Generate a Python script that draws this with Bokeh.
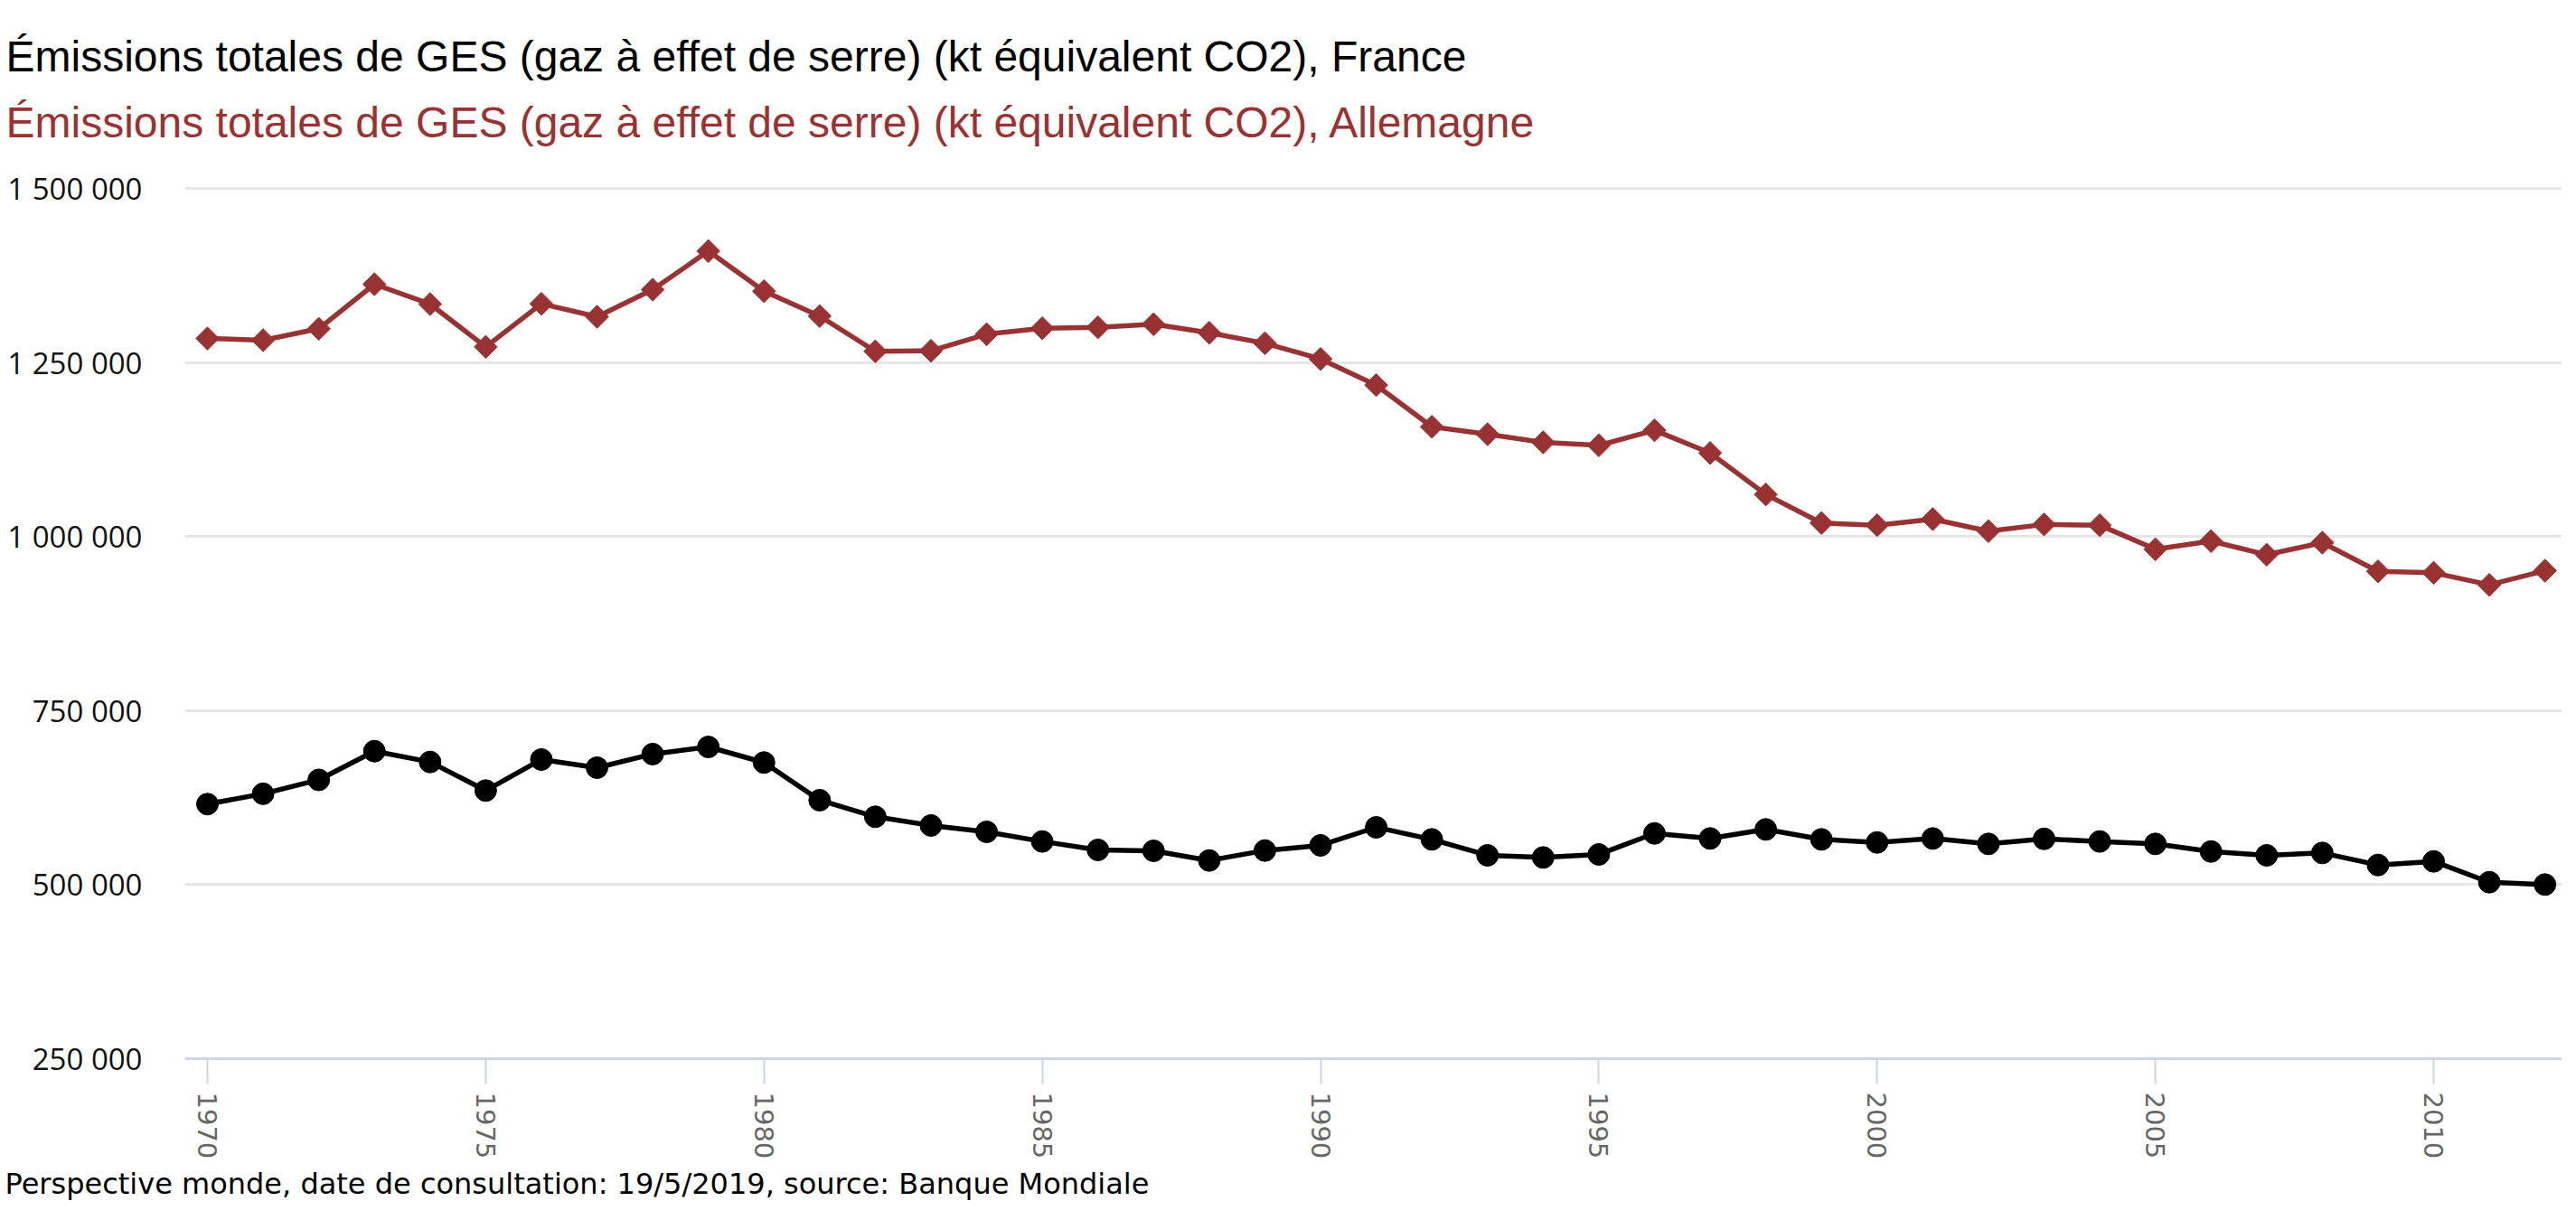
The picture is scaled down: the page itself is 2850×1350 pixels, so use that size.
import numpy as np
from bokeh.plotting import figure
from bokeh.models import Range1d, FixedTicker, Title, ColumnDataSource
from bokeh.embed import file_html
from bokeh.resources import INLINE

years = list(range(1970, 2013))
france = [615700, 630500, 650500, 691700, 676200, 635100, 679700, 668000, 687500, 697800,
          675400, 621300, 597500, 585000, 575800, 562000, 549900, 548600, 534700, 549000,
          556400, 582300, 565000, 542100, 539000, 543400, 573600, 566300, 579300, 565000,
          560600, 566300, 558500, 565800, 562000, 558500, 547600, 542100, 545500, 528200,
          533400, 503500, 500100]
allemagne = [1284500, 1282000, 1298400, 1362400, 1333900, 1272400, 1334300, 1315700, 1354600, 1410000,
             1352400, 1316600, 1266000, 1266800, 1290600, 1299200, 1300500, 1304900, 1292700, 1277600,
             1255100, 1217500, 1157700, 1147000, 1135300, 1131000, 1152600, 1120000, 1060400, 1019400,
             1016300, 1025000, 1007700, 1017300, 1016300, 981700, 993400, 973900, 991200, 950000,
             947900, 930600, 950900]

y_ticks = [250000, 500000, 750000, 1000000, 1250000, 1500000]
y_tick_labels = ["250 000", "500 000", "750 000", "1 000 000", "1 250 000", "1 500 000"]
x_ticks = [1970, 1975, 1980, 1985, 1990, 1995, 2000, 2005, 2010]

title_fr = "Émissions totales de GES (gaz à effet de serre) (kt équivalent CO2), France"
title_de = "Émissions totales de GES (gaz à effet de serre) (kt équivalent CO2), Allemagne"
credits = "Perspective monde, date de consultation: 19/5/2019, source: Banque Mondiale"

color_fr = "#000000"
color_de = "#993333"

src = ColumnDataSource(dict(year=years, fr=france, de=allemagne))

p = figure(width=2834, height=1334, output_backend="svg", toolbar_location=None,
           x_range=Range1d(1969.594, 2012.306), y_range=Range1d(250000, 1510384),
           min_border_left=204, min_border_right=0, min_border_top=200, min_border_bottom=163)
p.outline_line_color = None
p.background_fill_color = "white"
p.border_fill_color = "white"

# titles
t_fr = Title(text=title_fr, text_color=color_fr, text_font="Liberation Sans",
             text_font_size="48px", text_font_style="normal", align="left", offset=-198)
t_de = Title(text=title_de, text_color=color_de, text_font="Liberation Sans",
             text_font_size="48px", text_font_style="normal", align="left", offset=-198,
             standoff=78)
try:
    t_fr.standoff = -42
except Exception:
    t_fr.standoff = 0
p.add_layout(t_de, "above")
p.add_layout(t_fr, "above")

t_cr = Title(text=credits, text_color="#000000", text_font="DejaVu Sans",
             text_font_size="32px", text_font_style="normal", align="left", offset=-199,
             standoff=6)
p.add_layout(t_cr, "below")

# y axis
p.yaxis.ticker = FixedTicker(ticks=y_ticks)
p.yaxis.major_label_overrides = {v: s for v, s in zip(y_ticks, y_tick_labels)}
p.yaxis.axis_line_color = None
p.yaxis.major_tick_line_color = None
p.yaxis.minor_tick_line_color = None
p.yaxis.major_tick_out = 0
p.yaxis.major_tick_in = 0
p.yaxis.major_label_standoff = 47
p.yaxis.major_label_text_font = "Open Sans"
p.yaxis.major_label_text_font_size = "33px"
p.yaxis.major_label_text_color = "#111111"

p.ygrid.grid_line_color = "#e6e6e6"
p.ygrid.grid_line_width = 3
p.xgrid.grid_line_color = None

# x axis
p.xaxis.ticker = FixedTicker(ticks=x_ticks)
p.xaxis.axis_line_color = "#ccd6eb"
p.xaxis.axis_line_width = 3
p.xaxis.major_tick_line_color = "#ccd6eb"
p.xaxis.major_tick_line_width = 2
p.xaxis.major_tick_out = 28
p.xaxis.major_tick_in = 0
p.xaxis.minor_tick_line_color = None
p.xaxis.major_label_orientation = "vertical"
p.xaxis.major_label_standoff = 9
p.xaxis.axis_label_standoff = 0
p.xaxis.major_label_text_font = "DejaVu Sans"
p.xaxis.major_label_text_font_size = "29px"
p.xaxis.major_label_text_color = "#666666"

# series
p.line("year", "de", source=src, line_color=color_de, line_width=5.5)
p.scatter("year", "de", source=src, marker="square", angle=np.pi / 4, size=18,
          fill_color=color_de, line_color=color_de)
p.line("year", "fr", source=src, line_color=color_fr, line_width=5.5)
p.scatter("year", "fr", source=src, marker="circle", size=24,
          fill_color=color_fr, line_color=color_fr)

open("out.html", "w").write(file_html(p, INLINE))
